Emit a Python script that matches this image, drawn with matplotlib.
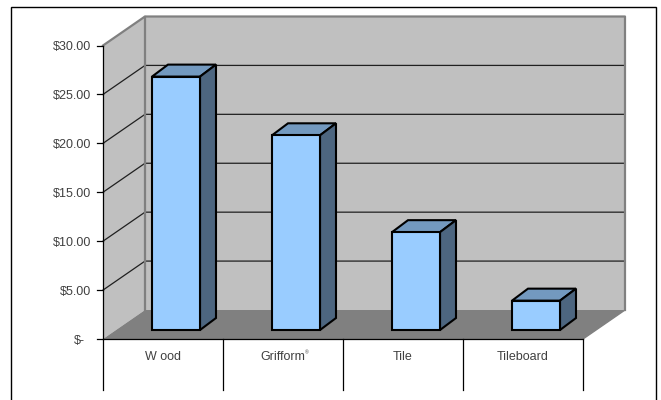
import matplotlib
matplotlib.use("Agg")
import matplotlib.pyplot as plt
from matplotlib.patches import Polygon, Rectangle

plt.rcParams['font.family'] = ['Liberation Sans', 'DejaVu Sans']

categories = ["W ood", "Grifform", "Tile", "Tileboard"]
prices = [25.9, 19.9, 10.0, 3.0]
tick_values = [0, 5, 10, 15, 20, 25, 30]
tick_labels = ["$-", "$5.00", "$10.00", "$15.00", "$20.00", "$25.00", "$30.00"]

W, H = 661, 400
fig = plt.figure(figsize=(W / 100, H / 100), dpi=100)

# outer frame, runs off the bottom of the image
fig.add_artist(Rectangle((11 / W, -0.05), 645 / W, 1.05 - 6.5 / H, transform=fig.transFigure,
                         fill=False, edgecolor="black", linewidth=1.0))

# axes sit on the front plane of the 3d box
ax = fig.add_axes([103 / W, 1 - 339 / H, 480 / W, 293.5 / H])
ax.set_xlim(0, 4)
ax.set_ylim(0, 30)
ax.axis("off")

# depth of the whole box in data units
dx = 42 / 120
dy = 29 / (293.5 / 30)
ymax = 30
text_col = "#404040"


def poly(pts, fc, ec="none", lw=0, z=1):
    ax.add_patch(Polygon(pts, closed=True, facecolor=fc, edgecolor=ec, linewidth=lw,
                         zorder=z, clip_on=False, joinstyle="miter"))


# walls and floor
poly([(dx, dy), (4 + dx, dy), (4 + dx, ymax + dy), (dx, ymax + dy)], "#C0C0C0", z=1)
poly([(0, 0), (dx, dy), (dx, ymax + dy), (0, ymax)], "#C0C0C0", z=1)
poly([(0, 0), (4, 0), (4 + dx, dy), (dx, dy)], "#808080", z=1)

# gridlines on side and back wall
for v in tick_values[1:-1]:
    ax.plot([0, dx, 4 + dx], [v, v + dy, v + dy], color="#202020", lw=0.9, zorder=2, clip_on=False)

# grey box edges
ax.plot([0, dx, 4 + dx, 4 + dx], [ymax, ymax + dy, ymax + dy, dy], color="#808080", lw=1.6, zorder=3, clip_on=False)
ax.plot([dx, dx], [dy, ymax + dy], color="#808080", lw=1.6, zorder=3, clip_on=False)
ax.plot([4, 4 + dx], [0, dy], color="#808080", lw=1.0, zorder=3, clip_on=False)

# axis lines and ticks
ax.plot([0, 0], [0, ymax], color="black", lw=0.9, zorder=3, clip_on=False)
ax.plot([0, 4], [0, 0], color="black", lw=0.9, zorder=3, clip_on=False)
tick_len = 6 / 120
for v, lab in zip(tick_values, tick_labels):
    ax.plot([-tick_len, 0], [v, v], color="black", lw=0.9, zorder=3, clip_on=False)
    if v == 0:
        ax.text(-0.2, v - 0.2, lab, ha="center", va="center", fontsize=9, color=text_col)
    else:
        ax.text(-0.1, v - 0.15, lab, ha="right", va="center", fontsize=9, color=text_col)

# category separators below the floor
sep = 51 / (293.5 / 30)
for i in range(5):
    ax.plot([i, i], [0, -sep], color="black", lw=0.9, zorder=3, clip_on=False)

for i, name in enumerate(categories):
    ax.text(i + 0.5, -1.85, name, ha="center", va="center", fontsize=9, color=text_col)
ax.text(1.5 + 0.2, -1.45, "\u00ae", ha="center", va="center", fontsize=3.5, color=text_col)

# bars: front face, top, right side
bar_w = 0.4
bar_dx = 16 / 120
bar_dy = 12 / (293.5 / 30)
base_x = 13 / 120
base_y = 9 / (293.5 / 30)
for i, val in enumerate(prices):
    x0 = i + 0.5 - bar_w / 2 + base_x
    x1 = x0 + bar_w
    y0 = base_y
    y1 = base_y + val
    poly([(x0, y1), (x1, y1), (x1 + bar_dx, y1 + bar_dy), (x0 + bar_dx, y1 + bar_dy)],
         "#7399BF", "black", 1.5, z=5)
    poly([(x1, y0), (x1 + bar_dx, y0 + bar_dy), (x1 + bar_dx, y1 + bar_dy), (x1, y1)],
         "#4D6680", "black", 1.5, z=5)
    poly([(x0, y0), (x1, y0), (x1, y1), (x0, y1)], "#99CCFF", "black", 1.5, z=6)

fig.savefig("out.png", dpi=100)
